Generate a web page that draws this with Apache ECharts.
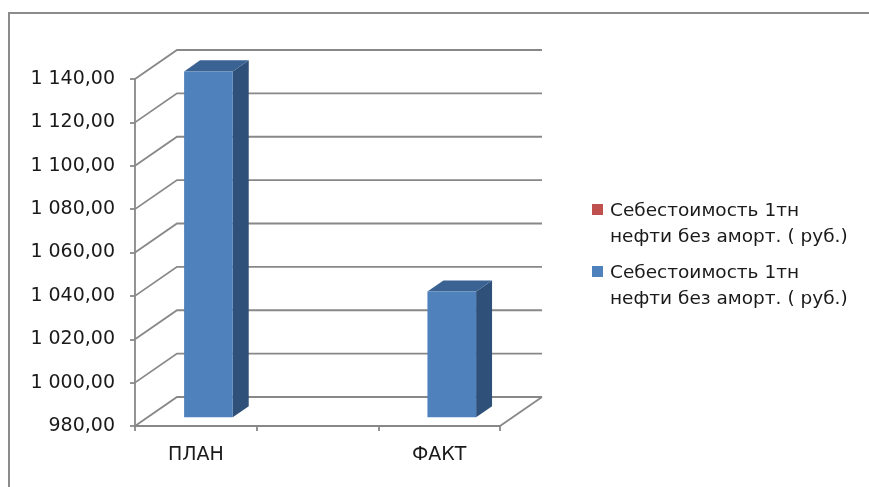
<!DOCTYPE html>
<html>
<head>
<meta charset="utf-8">
<script src="https://cdn.jsdelivr.net/npm/echarts@6/dist/echarts.min.js"></script>
<style>
  html, body { margin: 0; padding: 0; background: #fff; }
  #chart { width: 869px; height: 487px; }
</style>
</head>
<body>
<div id="chart"></div>
<script>
// данные диаграммы
var categories = ['ПЛАН', '', 'ФАКТ'];
var costValues = [1139.5, null, 1038];
var yTicks = [980, 1000, 1020, 1040, 1060, 1080, 1100, 1120, 1140];
var seriesNames = ['Себестоимость 1тн нефти без аморт. ( руб.)', 'Себестоимость 1тн нефти без аморт. ( руб.) '];

var chart = echarts.init(document.getElementById('chart'));

// смещение "глубины" для псевдо-3D
var DX = 42, DY = -29;
var lineColor = '#888888';
var font = '"DejaVu Sans", sans-serif';

function fmt(v) {
    var s = String(Math.round(v));
    if (s.length > 3) s = s.slice(0, s.length - 3) + ' ' + s.slice(s.length - 3);
    return s + ',00';
}

// задняя стенка, боковая стенка и пол
function renderWall(params, api) {
    var cs = params.coordSys;
    var v = api.value(0);
    var p = api.coord([0, v]);
    var x0 = cs.x, x1 = cs.x + cs.width, y = p[1];
    var style = { stroke: lineColor, lineWidth: 1.8, fill: null };
    var children = [
        { type: 'polyline', shape: { points: [[x0, y], [x0 + DX, y + DY], [x1 + DX, y + DY]] }, style: style }
    ];
    if (v === yTicks[0]) {
        children.push({ type: 'line', shape: { x1: x1, y1: y, x2: x1 + DX, y2: y + DY }, style: style });
    }
    return { type: 'group', children: children };
}

// столбики с передней, верхней и боковой гранью
function renderBar(params, api) {
    var val = api.value(1);
    if (val == null || isNaN(val)) return;
    var top = api.coord([api.value(0), val]);
    var base = api.coord([api.value(0), yTicks[0]]);
    var bw = api.size([1, 0])[0] * 0.4;
    var sx = DX * 0.3, sy = DY * 0.3;
    var dx = DX * 0.38, dy = DY * 0.38;
    var l = top[0] + sx - bw / 2, r = top[0] + sx + bw / 2;
    var t = top[1] + sy, b = base[1] + sy;
    return {
        type: 'group',
        children: [
            { type: 'polygon', shape: { points: [[r, t], [r + dx, t + dy], [r + dx, b + dy], [r, b]] }, style: { fill: '#2f5078' } },
            { type: 'polygon', shape: { points: [[l, t], [l + dx, t + dy], [r + dx, t + dy], [r, t]] }, style: { fill: '#3a6394' } },
            { type: 'rect', shape: { x: l, y: t, width: r - l, height: b - t }, style: { fill: '#4f81bd' } }
        ]
    };
}

var option = {
    animation: false,
    backgroundColor: '#fff',
    graphic: [{
        type: 'rect', silent: true,
        shape: { x: 9, y: 13, width: 900, height: 520 },
        style: { fill: null, stroke: '#8c8c8c', lineWidth: 2 }
    }],
    grid: { left: 135, top: 79, width: 365, height: 347 },
    legend: {
        orient: 'vertical',
        left: 587,
        top: 193,
        itemWidth: 11,
        itemHeight: 52,
        itemGap: 10,
        icon: 'path://M0,0L0.01,0M0,6h11v11h-11zM0,52L0.01,52',
        data: seriesNames,
        formatter: function (name) {
            return name.trim().replace(' нефти', '\nнефти');
        },
        textStyle: { fontFamily: font, fontSize: 18.5, color: '#1a1a1a', lineHeight: 26, padding: [0, 0, 0, 2] }
    },
    xAxis: {
        type: 'category',
        data: categories,
        boundaryGap: true,
        axisLine: { lineStyle: { color: lineColor, width: 1.8 } },
        axisTick: { show: true, inside: false, length: 5, lineStyle: { color: lineColor, width: 1.8 } },
        axisLabel: { margin: 20, fontFamily: font, fontSize: 19, color: '#1a1a1a', interval: 0 },
        splitLine: { show: false }
    },
    yAxis: {
        type: 'value',
        min: 980,
        max: 1140,
        interval: 20,
        axisLine: { show: true, lineStyle: { color: lineColor, width: 1.8 } },
        axisTick: { show: true, length: 5, lineStyle: { color: lineColor, width: 1.8 } },
        axisLabel: { margin: 20, fontFamily: font, fontSize: 19, color: '#1a1a1a', formatter: fmt },
        splitLine: { show: false }
    },
    series: [
        {
            name: seriesNames[0],
            type: 'custom',
            coordinateSystem: 'cartesian2d',
            itemStyle: { color: '#c0504d' },
            clip: false,
            renderItem: function () { return; },
            data: []
        },
        {
            type: 'custom',
            coordinateSystem: 'cartesian2d',
            clip: false,
            silent: true,
            z: 1,
            renderItem: renderWall,
            data: yTicks.map(function (v) { return [v]; })
        },
        {
            name: seriesNames[1],
            type: 'custom',
            coordinateSystem: 'cartesian2d',
            clip: false,
            z: 3,
            itemStyle: { color: '#4f81bd' },
            renderItem: renderBar,
            data: costValues.map(function (v, i) { return [i, v]; })
        }
    ]
};

chart.setOption(option);
</script>
</body>
</html>
